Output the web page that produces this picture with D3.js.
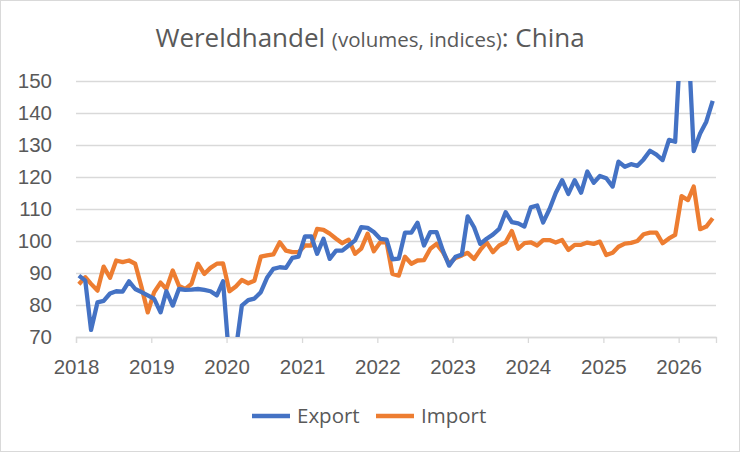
<!DOCTYPE html>
<html>
<head>
<meta charset="utf-8">
<script src="https://cdn.jsdelivr.net/npm/d3@7"></script>
<style>
    html, body { margin: 0; padding: 0; background: #fff; }
    svg { display: block; font-family: 'Open Sans', 'Noto Sans', sans-serif; }
</style>
</head>
<body>
<svg id="chart" width="740" height="452"></svg>
<script>
// monthly values, Jan 2018 - Jun 2026
var exportValues = [
    89.2, 87.6, 72.2, 80.8, 81.3, 83.6, 84.3, 84.2, 87.4, 85.0, 84.0, 83.0,
    81.9, 77.7, 84.3, 79.8, 85.0, 84.7, 84.8, 85.0, 84.7, 84.3, 83.0, 87.4,
    62.0, 66.0, 79.8, 81.5, 82.0, 84.0, 88.5, 91.3, 91.8, 91.6, 94.7, 95.1,
    101.4, 101.4, 96.0, 100.7, 94.4, 97.0, 97.0, 98.6, 100.2, 104.3, 104.1, 102.8,
    100.7, 100.4, 94.3, 94.5, 102.6, 102.6, 105.7, 98.6, 102.8, 102.8, 97.0, 92.3,
    95.1, 95.8, 107.7, 104.3, 99.1, 100.7, 102.0, 103.8, 109.0, 105.9, 105.5, 104.5,
    110.5, 111.1, 105.8, 110.0, 115.0, 119.0, 114.7, 119.0, 115.1, 121.7, 118.2, 120.3,
    119.6, 117.0, 124.8, 123.2, 124.0, 123.5, 125.5, 128.2, 127.0, 125.3, 131.6, 131.0,
    168.0, 165.0, 128.1, 133.6, 137.3, 143.8
];
var importValues = [
    86.5, 88.7, 86.6, 84.5, 92.0, 88.5, 93.9, 93.4, 93.9, 92.9, 85.5, 77.7,
    84.0, 87.0, 85.0, 90.8, 86.0, 85.0, 86.6, 92.9, 89.7, 91.6, 92.9, 93.0,
    84.3, 85.8, 87.8, 86.8, 87.6, 95.1, 95.5, 95.8, 99.6, 97.0, 96.5, 96.5,
    98.6, 98.6, 103.8, 103.5, 102.3, 100.7, 99.3, 100.4, 96.0, 97.6, 102.3, 96.8,
    99.6, 99.6, 89.7, 89.2, 95.1, 92.9, 93.9, 94.0, 97.6, 99.1, 96.5, 92.9,
    94.7, 95.5, 96.3, 94.4, 97.2, 99.6, 96.5, 98.6, 99.6, 103.1, 97.6, 99.3,
    99.6, 98.6, 100.3, 100.3, 99.5, 100.3, 97.2, 98.8, 98.8, 99.5, 99.1, 99.8,
    95.6, 96.3, 98.2, 99.2, 99.4, 100.0, 102.1, 102.6, 102.6, 99.3, 100.8, 101.9,
    114.0, 112.8, 117.0, 103.7, 104.5, 107.1
];
var yearTicks = [2018, 2019, 2020, 2021, 2022, 2023, 2024, 2025, 2026];
var valueTicks = [70, 80, 90, 100, 110, 120, 130, 140, 150];
var seriesNames = ['Export', 'Import'];
var seriesColors = ['#4472C4', '#ED7D31'];

var svg = d3.select('#chart');
var plot = { left: 76, right: 716, top: 81, bottom: 337 };
var grey = '#595959';
var gridColor = '#d9d9d9';
var labelSize = 20.5;

// chart border
svg.append('rect')
    .attr('x', 0.5).attr('y', 0.5)
    .attr('width', 739).attr('height', 451)
    .attr('fill', '#fff')
    .attr('stroke', gridColor);

var x = d3.scaleTime()
    .domain([new Date(2018, 0, 1), new Date(2026, 6, 1)])
    .range([plot.left, plot.right]);

var y = d3.scaleLinear()
    .domain([70, 150])
    .range([plot.bottom, plot.top]);

var dates = exportValues.map(function(d, i) {
    return new Date(2018, i, 15);
});

// gridlines and value labels
var yAxis = d3.axisLeft(y)
    .tickValues(valueTicks)
    .tickSize(-(plot.right - plot.left))
    .tickPadding(24);

svg.append('g')
    .attr('transform', 'translate(' + plot.left + ',0)')
    .call(yAxis)
    .call(function(g) {
        g.select('.domain').remove();
        g.selectAll('.tick line').attr('stroke', gridColor).attr('stroke-width', 1.3);
        g.selectAll('.tick text')
            .attr('fill', grey)
            .attr('font-size', labelSize)
            .attr('x', -24);
    });

// year axis
var xAxis = d3.axisBottom(x)
    .tickValues(yearTicks.map(function(yr) { return new Date(yr, 0, 1); }))
    .tickFormat(d3.timeFormat('%Y'))
    .tickSize(6)
    .tickPadding(16);

svg.append('g')
    .attr('transform', 'translate(0,' + plot.bottom + ')')
    .call(xAxis)
    .call(function(g) {
        g.select('.domain').attr('stroke', gridColor).attr('stroke-width', 1.3);
        g.selectAll('.tick line').attr('stroke', gridColor).attr('stroke-width', 1.3);
        g.selectAll('.tick text').attr('fill', grey).attr('font-size', labelSize);
    });

svg.append('clipPath')
    .attr('id', 'plotClip')
    .append('rect')
    .attr('x', plot.left).attr('y', plot.top)
    .attr('width', plot.right - plot.left)
    .attr('height', plot.bottom - plot.top);

var line = d3.line()
    .x(function(d) { return x(d.date); })
    .y(function(d) { return y(d.value); });

var series = [exportValues, importValues].map(function(values, s) {
    return {
        name: seriesNames[s],
        color: seriesColors[s],
        points: values.map(function(v, i) { return { date: dates[i], value: v }; })
    };
});

svg.append('g')
    .attr('clip-path', 'url(#plotClip)')
    .selectAll('path')
    .data(series.slice().reverse())
    .enter()
    .append('path')
    .attr('fill', 'none')
    .attr('stroke', function(d) { return d.color; })
    .attr('stroke-width', 4.3)
    .attr('stroke-linejoin', 'round')
    .attr('d', function(d) { return line(d.points); });

// title
var title = svg.append('text')
    .attr('x', 370)
    .attr('y', 47)
    .attr('text-anchor', 'middle')
    .attr('fill', grey)
    .attr('font-size', 26);
title.append('tspan').text('Wereldhandel ');
title.append('tspan').attr('font-size', 20.5).text('(volumes, indices)');
title.append('tspan').text(': China');

// legend
var legend = svg.append('g')
    .selectAll('g')
    .data(series)
    .enter()
    .append('g')
    .attr('transform', function(d, i) { return 'translate(' + (252 + i * 124) + ',416)'; });

legend.append('line')
    .attr('x1', 0).attr('x2', 38)
    .attr('stroke', function(d) { return d.color; })
    .attr('stroke-width', 4.3);

legend.append('text')
    .attr('x', 45)
    .attr('dy', '0.35em')
    .attr('fill', grey)
    .attr('font-size', labelSize)
    .text(function(d) { return d.name; });
</script>
</body>
</html>
